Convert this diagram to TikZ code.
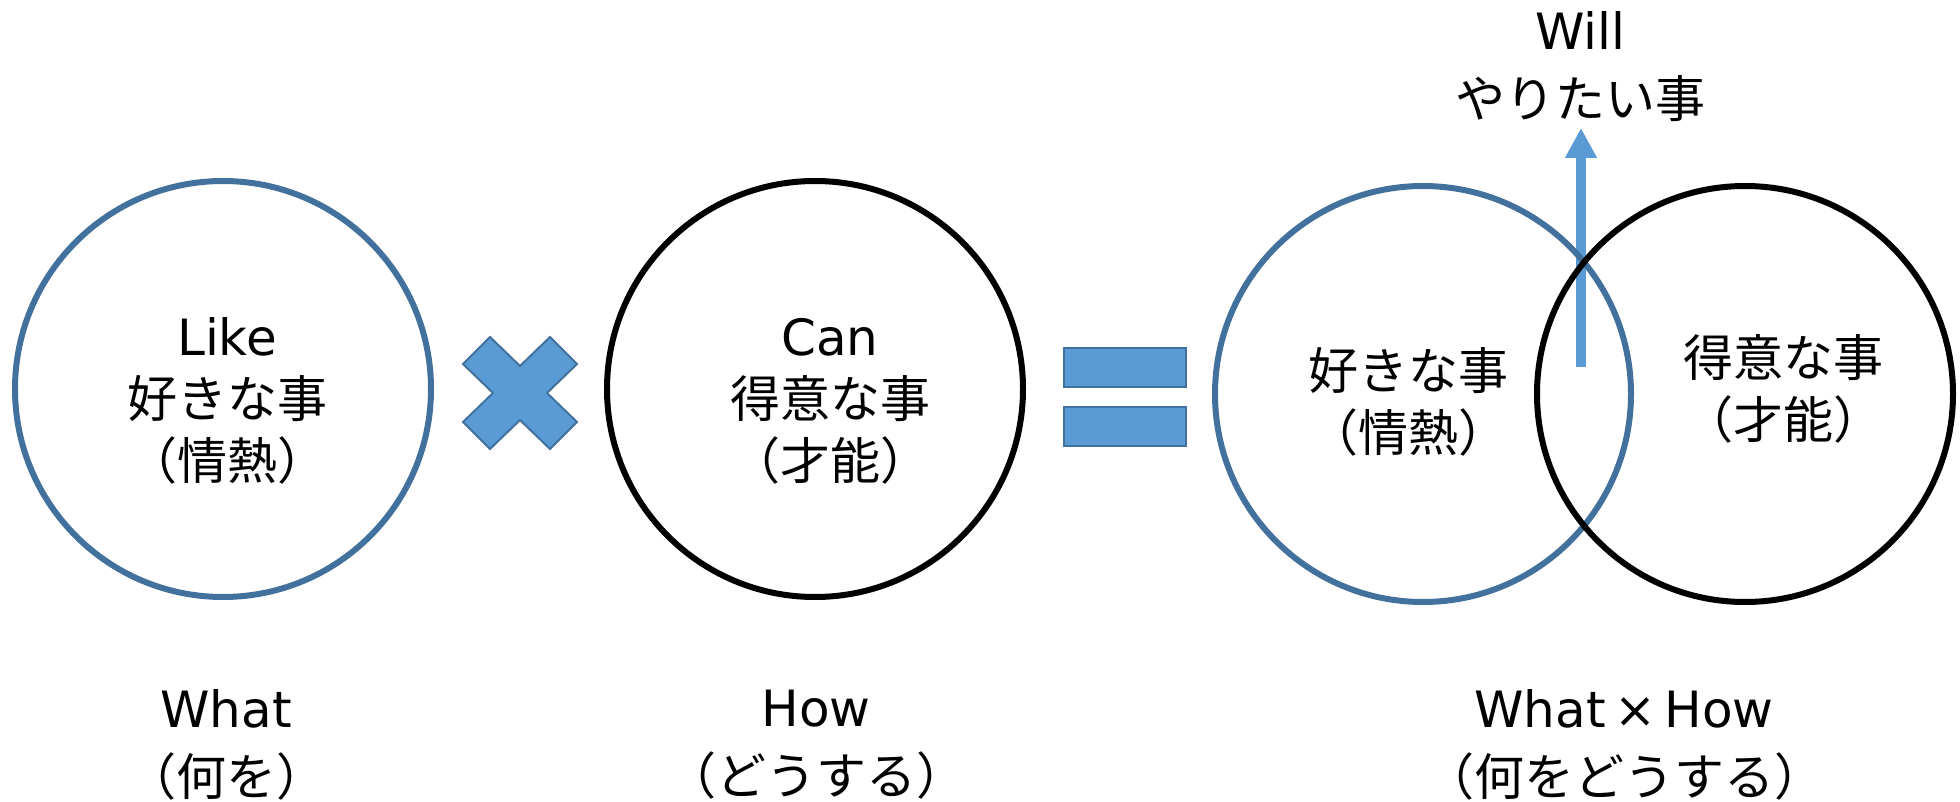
\documentclass[tikz,border=0pt]{standalone}
\usepackage{fontspec}
\setmainfont{Noto Sans CJK JP}
\newfontfamily\latin{DejaVu Sans}
\usetikzlibrary{arrows.meta}
\definecolor{ringblue}{HTML}{41719C}
\definecolor{fillblue}{HTML}{5B9BD5}
\tikzset{
	ring/.style={line width=3pt},
	txt/.style={align=center, inner sep=0pt, font=\fontsize{25pt}{31pt}\selectfont},
	subtxt/.style={align=center, inner sep=0pt, font=\fontsize{25pt}{34pt}\selectfont}
}

\begin{document}
\begin{tikzpicture}[x=0.5pt, y=-0.5pt]
			%%%%% START %%%%%
			\useasboundingbox (0, 0) rectangle (1960, 802);
			
			% left pair
			\draw[ring, color=ringblue] (223, 389) circle (104pt);
			\node[txt] (like) at (227, 401) {{\latin Like}\\好きな事\\（情熱）};
			
			\draw[fill=fillblue, draw=ringblue, line width=1pt, shift={(520, 393)}]
				(-57, -29) -- (-30, -56) -- (0, -27) -- (30, -56) -- (57, -29) -- (27, 0) --
				(57, 29) -- (30, 56) -- (0, 27) -- (-30, 56) -- (-57, 29) -- (-27, 0) -- cycle;
			
			\draw[ring, color=black] (815, 389) circle (104pt);
			\node[txt] (can) at (830, 401) {{\latin Can}\\得意な事\\（才能）};
			
			% equals
			\draw[fill=fillblue, draw=ringblue, line width=1pt] (1064, 348) rectangle (1186, 387);
			\draw[fill=fillblue, draw=ringblue, line width=1pt] (1064, 407) rectangle (1186, 446);
			
			% overlap
			\coordinate (willfoot) at (1581, 367);
			\coordinate (willtip) at (1581, 128);
			\draw[-{Triangle[width=15pt, length=15pt]}, line width=5pt, color=fillblue] (willfoot) -- (willtip);
			
			\draw[ring, color=ringblue] (1423, 394) circle (104pt);
			\draw[ring, color=black] (1745, 394) circle (104pt);
			\node[txt] (likeb) at (1408, 402) {好きな事\\（情熱）};
			\node[txt] (canb) at (1783, 389) {得意な事\\（才能）};
			
			\node[subtxt] (will) at (1580, 67) {{\latin Will}\\やりたい事};
			
			% bottom
			\node[subtxt] (what) at (226, 745) {{\latin What}\\（何を）};
			\node[subtxt] (how) at (816, 745) {{\latin How}\\（どうする）};
			\node[subtxt] (whathow) at (1624, 745) {{\latin What\,×\,How}\\（何をどうする）};
			
			%%%%% END %%%%%
\end{tikzpicture}
\end{document}
